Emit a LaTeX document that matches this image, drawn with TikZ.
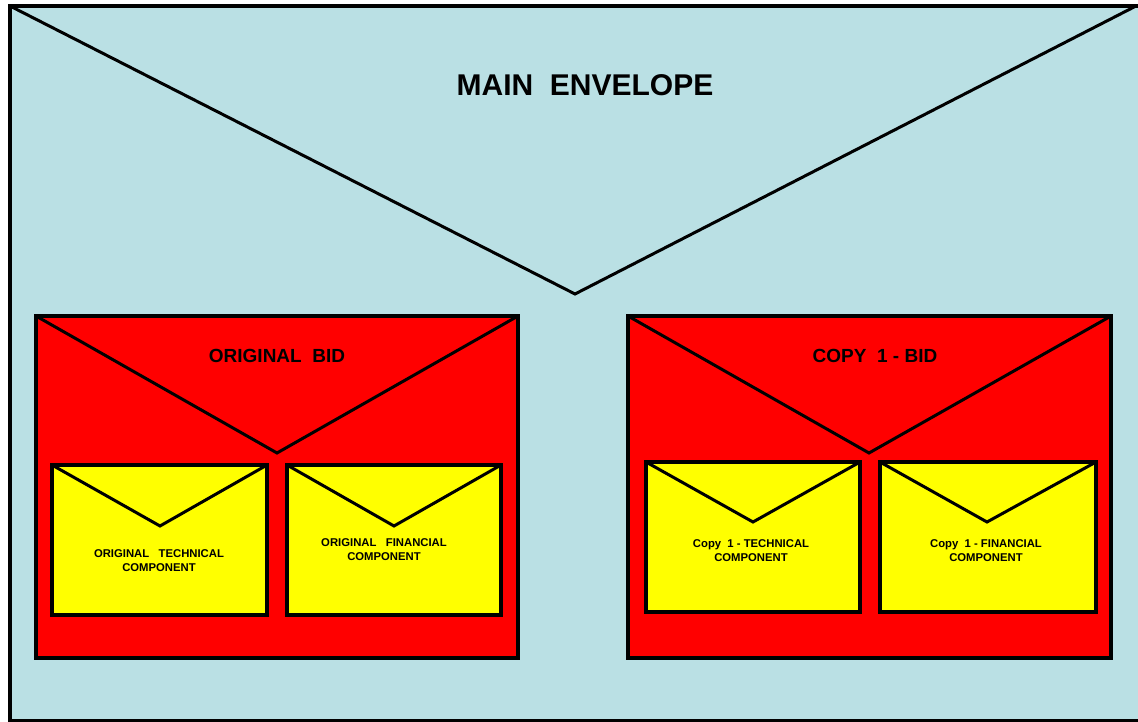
\documentclass[tikz,border=0pt]{standalone}
\usepackage{fontspec}
\setmainfont{Liberation Sans}
\definecolor{envblue}{HTML}{BAE0E4}
\definecolor{envred}{HTML}{FF0000}
\definecolor{envyellow}{HTML}{FFFF00}
\begin{document}
\begin{tikzpicture}[x=1pt,y=-1pt,
  envbody/.style={draw=black,line width=#1,rectangle,inner sep=0pt,outer sep=0pt,anchor=north west},
  envbody/.default=4.5pt,
  flapline/.style={draw=black,line width=3pt,line join=miter,miter limit=10},
  bigtitle/.style={font=\fontsize{30}{34}\selectfont\bfseries},
  midtitle/.style={font=\fontsize{19}{22}\selectfont\bfseries},
  smalltitle/.style={font=\fontsize{11.3}{14}\selectfont\bfseries,align=center}]
\useasboundingbox (0,0) rectangle (1138,722);
% main envelope
\node[envbody=4pt,fill=envblue,minimum width=1131pt,minimum height=715pt] (main) at (10,6) {};
\coordinate (mainapex) at (575,294);
\coordinate (mainright) at (1136,6);
\draw[flapline] (main.north west) -- (mainapex) -- (mainright);
\node[bigtitle] (maintext) at (585,85) {MAIN\ \ ENVELOPE};
% original bid
\node[envbody,fill=envred,minimum width=482pt,minimum height=342pt] (orig) at (36,316) {};
\coordinate (origapex) at (277,453);
\draw[flapline] (orig.north west) -- (origapex) -- (orig.north east);
\node[midtitle] (origtext) at (277,356) {ORIGINAL\ \ BID};
% copy 1 bid
\node[envbody,fill=envred,minimum width=483pt,minimum height=342pt] (copy) at (628,316) {};
\coordinate (copyapex) at (869,453);
\draw[flapline] (copy.north west) -- (copyapex) -- (copy.north east);
\node[midtitle] (copytext) at (875,356) {COPY\ \ 1 - BID};
% yellow envelopes
\node[envbody,fill=envyellow,minimum width=215pt,minimum height=150pt] (ot) at (52,465) {};
\coordinate (otapex) at (160,526);
\draw[flapline] (ot.north west) -- (otapex) -- (ot.north east);
\node[smalltitle] (ottext) at (159,561) {ORIGINAL\ \ \ TECHNICAL\\COMPONENT};
\node[envbody,fill=envyellow,minimum width=214pt,minimum height=150pt] (of) at (287,465) {};
\coordinate (ofapex) at (394,526);
\draw[flapline] (of.north west) -- (ofapex) -- (of.north east);
\node[smalltitle] (oftext) at (384,550) {ORIGINAL\ \ \ FINANCIAL\\COMPONENT};
\node[envbody,fill=envyellow,minimum width=214pt,minimum height=150pt] (ct) at (646,462) {};
\coordinate (ctapex) at (753,522);
\draw[flapline] (ct.north west) -- (ctapex) -- (ct.north east);
\node[smalltitle] (cttext) at (751,551) {Copy\ \ 1 - TECHNICAL\\COMPONENT};
\node[envbody,fill=envyellow,minimum width=216pt,minimum height=150pt] (cf) at (880,462) {};
\coordinate (cfapex) at (987,522);
\draw[flapline] (cf.north west) -- (cfapex) -- (cf.north east);
\node[smalltitle] (cftext) at (986,551) {Copy\ \ 1 - FINANCIAL\\COMPONENT};
\end{tikzpicture}
\end{document}
